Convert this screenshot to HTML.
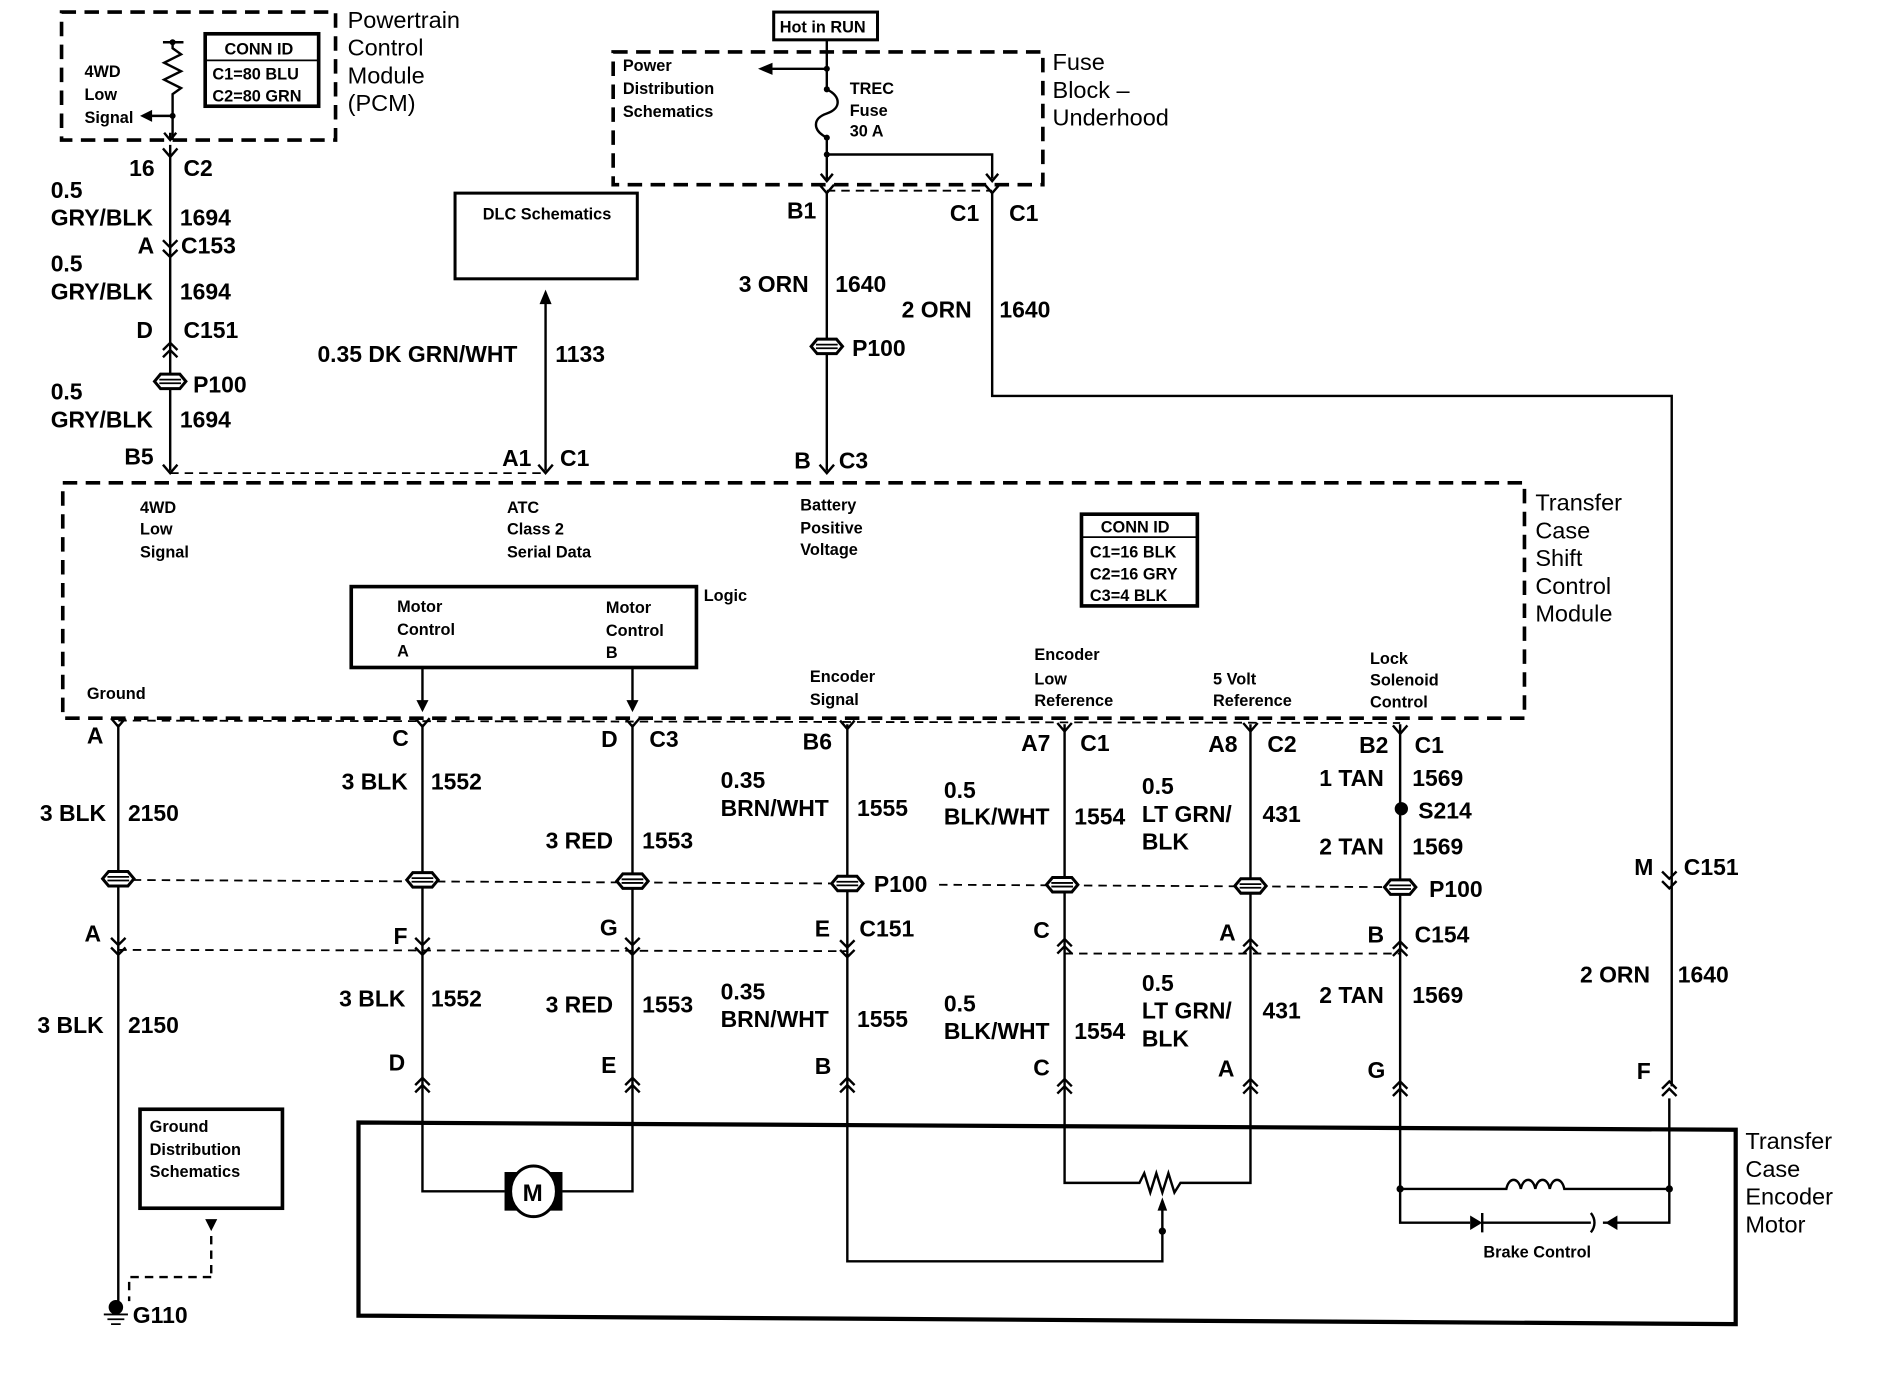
<!DOCTYPE html>
<html><head><meta charset="utf-8"><style>
html,body{margin:0;padding:0;background:#fff;}
svg{display:block;}
text{font-family:"Liberation Sans",Arial,sans-serif;fill:#000;}
.b{font-size:19px;font-weight:bold;}
.s{font-size:13.5px;font-weight:bold;}
.t{font-size:19.5px;}
</style></head><body>
<svg width="1892" height="1376" viewBox="0 0 1567.5 1140" xmlns="http://www.w3.org/2000/svg">
<defs>
<path id="fk" d="M-6,-7 L0,0 L6,-7" fill="none" stroke="#000" stroke-width="2"/>
<path id="up" d="M-6,6 L0,0 L6,6 M-6,12 L0,6 L6,12" fill="none" stroke="#000" stroke-width="2"/>
<path id="dn" d="M-6,-6 L0,0 L6,-6 M-6,2 L0,8 L6,2" fill="none" stroke="#000" stroke-width="2"/>
<g id="sp"><polygon points="-13,0 -8,-6 8,-6 13,0 8,6 -8,6" fill="#fff" stroke="#000" stroke-width="2.5"/><path d="M-9,-1.5 H9 M-9,1.5 H9" stroke="#000" stroke-width="1.5"/></g>
</defs>
<g fill="none" stroke="#000">
<rect x="51" y="10" width="227" height="106" stroke-width="3" stroke-dasharray="12,7"/>
<rect x="508" y="43" width="356" height="110" stroke-width="3" stroke-dasharray="12,7"/>
<rect x="52" y="400" width="1211" height="195" stroke-width="3" stroke-dasharray="12,7"/>
<rect x="170" y="28" width="94" height="60" stroke-width="3"/>
<line x1="170" y1="50" x2="264" y2="50" stroke-width="1.5"/>
<rect x="641" y="10" width="86" height="23" stroke-width="2.5"/>
<rect x="377" y="160" width="151" height="71" stroke-width="2.5"/>
<rect x="896" y="426" width="96" height="76" stroke-width="3"/>
<line x1="896" y1="445" x2="992" y2="445" stroke-width="1.5"/>
<rect x="291" y="486" width="286" height="67" stroke-width="3"/>
<rect x="116" y="919" width="118" height="82" stroke-width="3"/>
<path d="M297,930 L1438,936 L1438,1097 L297,1090 Z" stroke-width="3.5"/>
<g stroke-width="1.5" stroke-dasharray="7,5">
<line x1="141" y1="392" x2="452" y2="392"/>
<line x1="685" y1="158" x2="822" y2="158"/>
<line x1="98" y1="597" x2="1160" y2="599"/>
<line x1="98" y1="729" x2="702" y2="732"/>
<line x1="778" y1="733" x2="1160" y2="735"/>
<line x1="98" y1="787" x2="702" y2="788"/>
<line x1="882" y1="790" x2="1160" y2="790"/>
</g>
<g stroke-width="2">
<path d="M135,35 H152 M143,35 V40 L150,45 L136,52 L150,59 L136,66 L150,73 L143,78 V116"/>
<path d="M143,96 H124"/>
<line x1="141" y1="120" x2="141" y2="390"/>
<line x1="452" y1="250" x2="452" y2="390"/>
<path d="M685,33 V74 M685,57 H640 M685,74 C697,80 697,90 685,94 C673,98 673,108 685,114 V150 M685,128 H822 V148"/>
<line x1="685" y1="160" x2="685" y2="390"/>
<path d="M822,160 V328 H1385 V900"/>
<line x1="350" y1="553" x2="350" y2="588"/>
<line x1="524" y1="553" x2="524" y2="588"/>
<line x1="98" y1="600" x2="98" y2="1080"/>
<path d="M350,600 V987 H418 M466,987 H524 V600"/>
<path d="M702,600 V1045 H963 V995"/>
<path d="M882,600 V980 H944 L948,972 L953,988 L958,972 L963,988 L968,972 L973,988 L978,980 H1036 V600"/>
<path d="M1160,600 V1013 H1218 M1228,1013 H1318 M1328,1013 H1383 V910"/>
<path d="M1160,985 H1248 C1250,975 1258,975 1260,985 C1262,975 1270,975 1272,985 C1274,975 1282,975 1284,985 C1286,975 1294,975 1296,985 H1383"/>
<path d="M1228,1005 V1021 M1318,1005 C1322,1010 1322,1016 1318,1021"/>
<path d="M175,1024 V1058" stroke-dasharray="7,5"/>
<path d="M175,1058 H107 V1078" stroke-dasharray="7,5"/>
</g>
<rect x="418" y="971" width="48" height="32" fill="#000" stroke="none"/>
<ellipse cx="442" cy="987" rx="19" ry="21" fill="#fff" stroke-width="2.5"/>
</g>
<g fill="#000">
<polygon points="628,57 640,52 640,62"/>
<polygon points="116,96 126,91 126,101"/>
<polygon points="452,240 447,252 457,252"/>
<polygon points="350,590 345,580 355,580"/>
<polygon points="524,590 519,580 529,580"/>
<polygon points="963,992 959,1003 967,1003"/>
<polygon points="1228,1013 1218,1007 1218,1019"/>
<polygon points="1330,1013 1340,1007 1340,1019"/>
<polygon points="175,1020 170,1010 180,1010"/>
<circle cx="143" cy="35" r="2.5"/><circle cx="143" cy="96" r="2.5"/>
<circle cx="685" cy="57" r="2.5"/><circle cx="685" cy="74" r="2.5"/><circle cx="685" cy="114" r="2.5"/><circle cx="685" cy="128" r="2.5"/>
<circle cx="1161" cy="670" r="5.5"/>
<circle cx="1160" cy="985" r="3"/><circle cx="1383" cy="985" r="3"/><circle cx="963" cy="1020" r="3"/>
<circle cx="96" cy="1083" r="6"/>
</g>
<path d="M86,1089 H106 M89,1093 H103 M92,1097 H100" stroke="#000" stroke-width="1.5"/>
<path d="M141,110 L141,116 M136,110 L141,116 L146,110" stroke="#000" stroke-width="2" fill="none"/>
<path d="M680,144 L685,150 L690,144 M817,144 L822,150 L827,144" stroke="#000" stroke-width="2" fill="none"/>
<use href="#fk" x="141" y="130"/>
<use href="#dn" x="141" y="205"/>
<use href="#up" x="141" y="284"/>
<use href="#fk" x="141" y="392"/>
<use href="#fk" x="452" y="392"/>
<use href="#fk" x="685" y="392"/>
<use href="#fk" x="685" y="160"/>
<use href="#fk" x="822" y="160"/>
<g>
<use href="#fk" x="98" y="602"/><use href="#fk" x="350" y="602"/><use href="#fk" x="524" y="602"/><use href="#fk" x="702" y="604"/>
<use href="#fk" x="882" y="606"/><use href="#fk" x="1036" y="606"/><use href="#fk" x="1160" y="608"/>
<use href="#dn" x="98" y="783"/><use href="#dn" x="350" y="783"/><use href="#dn" x="524" y="783"/><use href="#dn" x="702" y="785"/>
<use href="#up" x="882" y="778"/><use href="#up" x="1036" y="778"/><use href="#up" x="1160" y="780"/>
<use href="#dn" x="1383" y="728"/>
<use href="#up" x="350" y="893"/><use href="#up" x="524" y="893"/><use href="#up" x="702" y="893"/><use href="#up" x="882" y="894"/><use href="#up" x="1036" y="894"/><use href="#up" x="1160" y="896"/><use href="#up" x="1383" y="896"/>
</g>
<use href="#sp" x="141" y="316"/>
<use href="#sp" x="685" y="287"/>
<use href="#sp" x="98" y="728"/><use href="#sp" x="350" y="729"/><use href="#sp" x="524" y="730"/><use href="#sp" x="702" y="732"/>
<use href="#sp" x="880" y="733"/><use href="#sp" x="1036" y="734"/><use href="#sp" x="1160" y="735"/>
<g class="s">
<text x="70" y="64">4WD</text><text x="70" y="83">Low</text><text x="70" y="102">Signal</text>
<text x="186" y="45">CONN ID</text><text x="176" y="66">C1=80 BLU</text><text x="176" y="84">C2=80 GRN</text>
<text x="646" y="27">Hot in RUN</text>
<text x="516" y="59">Power</text><text x="516" y="78">Distribution</text><text x="516" y="97">Schematics</text>
<text x="704" y="78">TREC</text><text x="704" y="96">Fuse</text><text x="704" y="113">30 A</text>
<text x="400" y="182">DLC Schematics</text>
<text x="116" y="425">4WD</text><text x="116" y="443">Low</text><text x="116" y="462">Signal</text>
<text x="420" y="425">ATC</text><text x="420" y="443">Class 2</text><text x="420" y="462">Serial Data</text>
<text x="663" y="423">Battery</text><text x="663" y="442">Positive</text><text x="663" y="460">Voltage</text>
<text x="912" y="441">CONN ID</text><text x="903" y="462">C1=16 BLK</text><text x="903" y="480">C2=16 GRY</text><text x="903" y="498">C3=4 BLK</text>
<text x="329" y="507">Motor</text><text x="329" y="526">Control</text><text x="329" y="544">A</text>
<text x="502" y="508">Motor</text><text x="502" y="527">Control</text><text x="502" y="545">B</text>
<text x="583" y="498">Logic</text>
<text x="72" y="579">Ground</text>
<text x="671" y="565">Encoder</text><text x="671" y="584">Signal</text>
<text x="857" y="547">Encoder</text><text x="857" y="567">Low</text><text x="857" y="585">Reference</text>
<text x="1005" y="567">5 Volt</text><text x="1005" y="585">Reference</text>
<text x="1135" y="550">Lock</text><text x="1135" y="568">Solenoid</text><text x="1135" y="586">Control</text>
<text x="124" y="938">Ground</text><text x="124" y="957">Distribution</text><text x="124" y="975">Schematics</text>
<text x="1229" y="1042">Brake Control</text>
</g>
<g class="t">
<text x="288" y="23">Powertrain</text><text x="288" y="46">Control</text><text x="288" y="69">Module</text><text x="288" y="92">(PCM)</text>
<text x="872" y="58">Fuse</text><text x="872" y="81">Block –</text><text x="872" y="104">Underhood</text>
<text x="1272" y="423">Transfer</text><text x="1272" y="446">Case</text><text x="1272" y="469">Shift</text><text x="1272" y="492">Control</text><text x="1272" y="515">Module</text>
<text x="1446" y="952">Transfer</text><text x="1446" y="975">Case</text><text x="1446" y="998">Encoder</text><text x="1446" y="1021">Motor</text>
</g>
<g class="b">
<text x="107" y="146">16</text><text x="152" y="146">C2</text>
<text x="42" y="164">0.5</text><text x="42" y="187">GRY/BLK</text><text x="149" y="187">1694</text>
<text x="114" y="210">A</text><text x="150" y="210">C153</text>
<text x="42" y="225">0.5</text><text x="42" y="248">GRY/BLK</text><text x="149" y="248">1694</text>
<text x="113" y="280">D</text><text x="152" y="280">C151</text>
<text x="160" y="325">P100</text>
<text x="42" y="331">0.5</text><text x="42" y="354">GRY/BLK</text><text x="149" y="354">1694</text>
<text x="103" y="385">B5</text>
<text x="263" y="300">0.35 DK GRN/WHT</text><text x="460" y="300">1133</text>
<text x="416" y="386">A1</text><text x="464" y="386">C1</text>
<text x="652" y="181">B1</text><text x="787" y="183">C1</text><text x="836" y="183">C1</text>
<text x="612" y="242">3 ORN</text><text x="692" y="242">1640</text>
<text x="747" y="263">2 ORN</text><text x="828" y="263">1640</text>
<text x="706" y="295">P100</text>
<text x="658" y="388">B</text><text x="695" y="388">C3</text>
<text x="72" y="616">A</text><text x="325" y="618">C</text><text x="498" y="619">D</text><text x="538" y="619">C3</text>
<text x="665" y="621">B6</text><text x="846" y="622">A7</text><text x="895" y="622">C1</text>
<text x="1001" y="623">A8</text><text x="1050" y="623">C2</text><text x="1126" y="624">B2</text><text x="1172" y="624">C1</text>
<text x="33" y="680">3 BLK</text><text x="106" y="680">2150</text>
<text x="283" y="654">3 BLK</text><text x="357" y="654">1552</text>
<text x="452" y="703">3 RED</text><text x="532" y="703">1553</text>
<text x="597" y="653">0.35</text><text x="597" y="676">BRN/WHT</text><text x="710" y="676">1555</text>
<text x="782" y="661">0.5</text><text x="782" y="683">BLK/WHT</text><text x="890" y="683">1554</text>
<text x="946" y="658">0.5</text><text x="946" y="681">LT GRN/</text><text x="946" y="704">BLK</text><text x="1046" y="681">431</text>
<text x="1093" y="651">1 TAN</text><text x="1170" y="651">1569</text>
<text x="1175" y="678">S214</text>
<text x="1093" y="708">2 TAN</text><text x="1170" y="708">1569</text>
<text x="724" y="739">P100</text><text x="1184" y="743">P100</text>
<text x="1354" y="725">M</text><text x="1395" y="725">C151</text>
<text x="70" y="780">A</text><text x="326" y="782">F</text><text x="497" y="775">G</text>
<text x="675" y="776">E</text><text x="712" y="776">C151</text>
<text x="856" y="777">C</text><text x="1010" y="779">A</text><text x="1133" y="781">B</text><text x="1172" y="781">C154</text>
<text x="31" y="856">3 BLK</text><text x="106" y="856">2150</text>
<text x="281" y="834">3 BLK</text><text x="357" y="834">1552</text>
<text x="452" y="839">3 RED</text><text x="532" y="839">1553</text>
<text x="597" y="828">0.35</text><text x="597" y="851">BRN/WHT</text><text x="710" y="851">1555</text>
<text x="782" y="838">0.5</text><text x="782" y="861">BLK/WHT</text><text x="890" y="861">1554</text>
<text x="946" y="821">0.5</text><text x="946" y="844">LT GRN/</text><text x="946" y="867">BLK</text><text x="1046" y="844">431</text>
<text x="1093" y="831">2 TAN</text><text x="1170" y="831">1569</text>
<text x="1309" y="814">2 ORN</text><text x="1390" y="814">1640</text>
<text x="322" y="887">D</text><text x="498" y="889">E</text><text x="675" y="890">B</text><text x="856" y="891">C</text>
<text x="1009" y="892">A</text><text x="1133" y="893">G</text><text x="1356" y="894">F</text>
<text x="110" y="1096">G110</text>
</g>
<text x="433" y="995" style="font-size:20px;font-weight:bold">M</text>
</svg>
</body></html>
